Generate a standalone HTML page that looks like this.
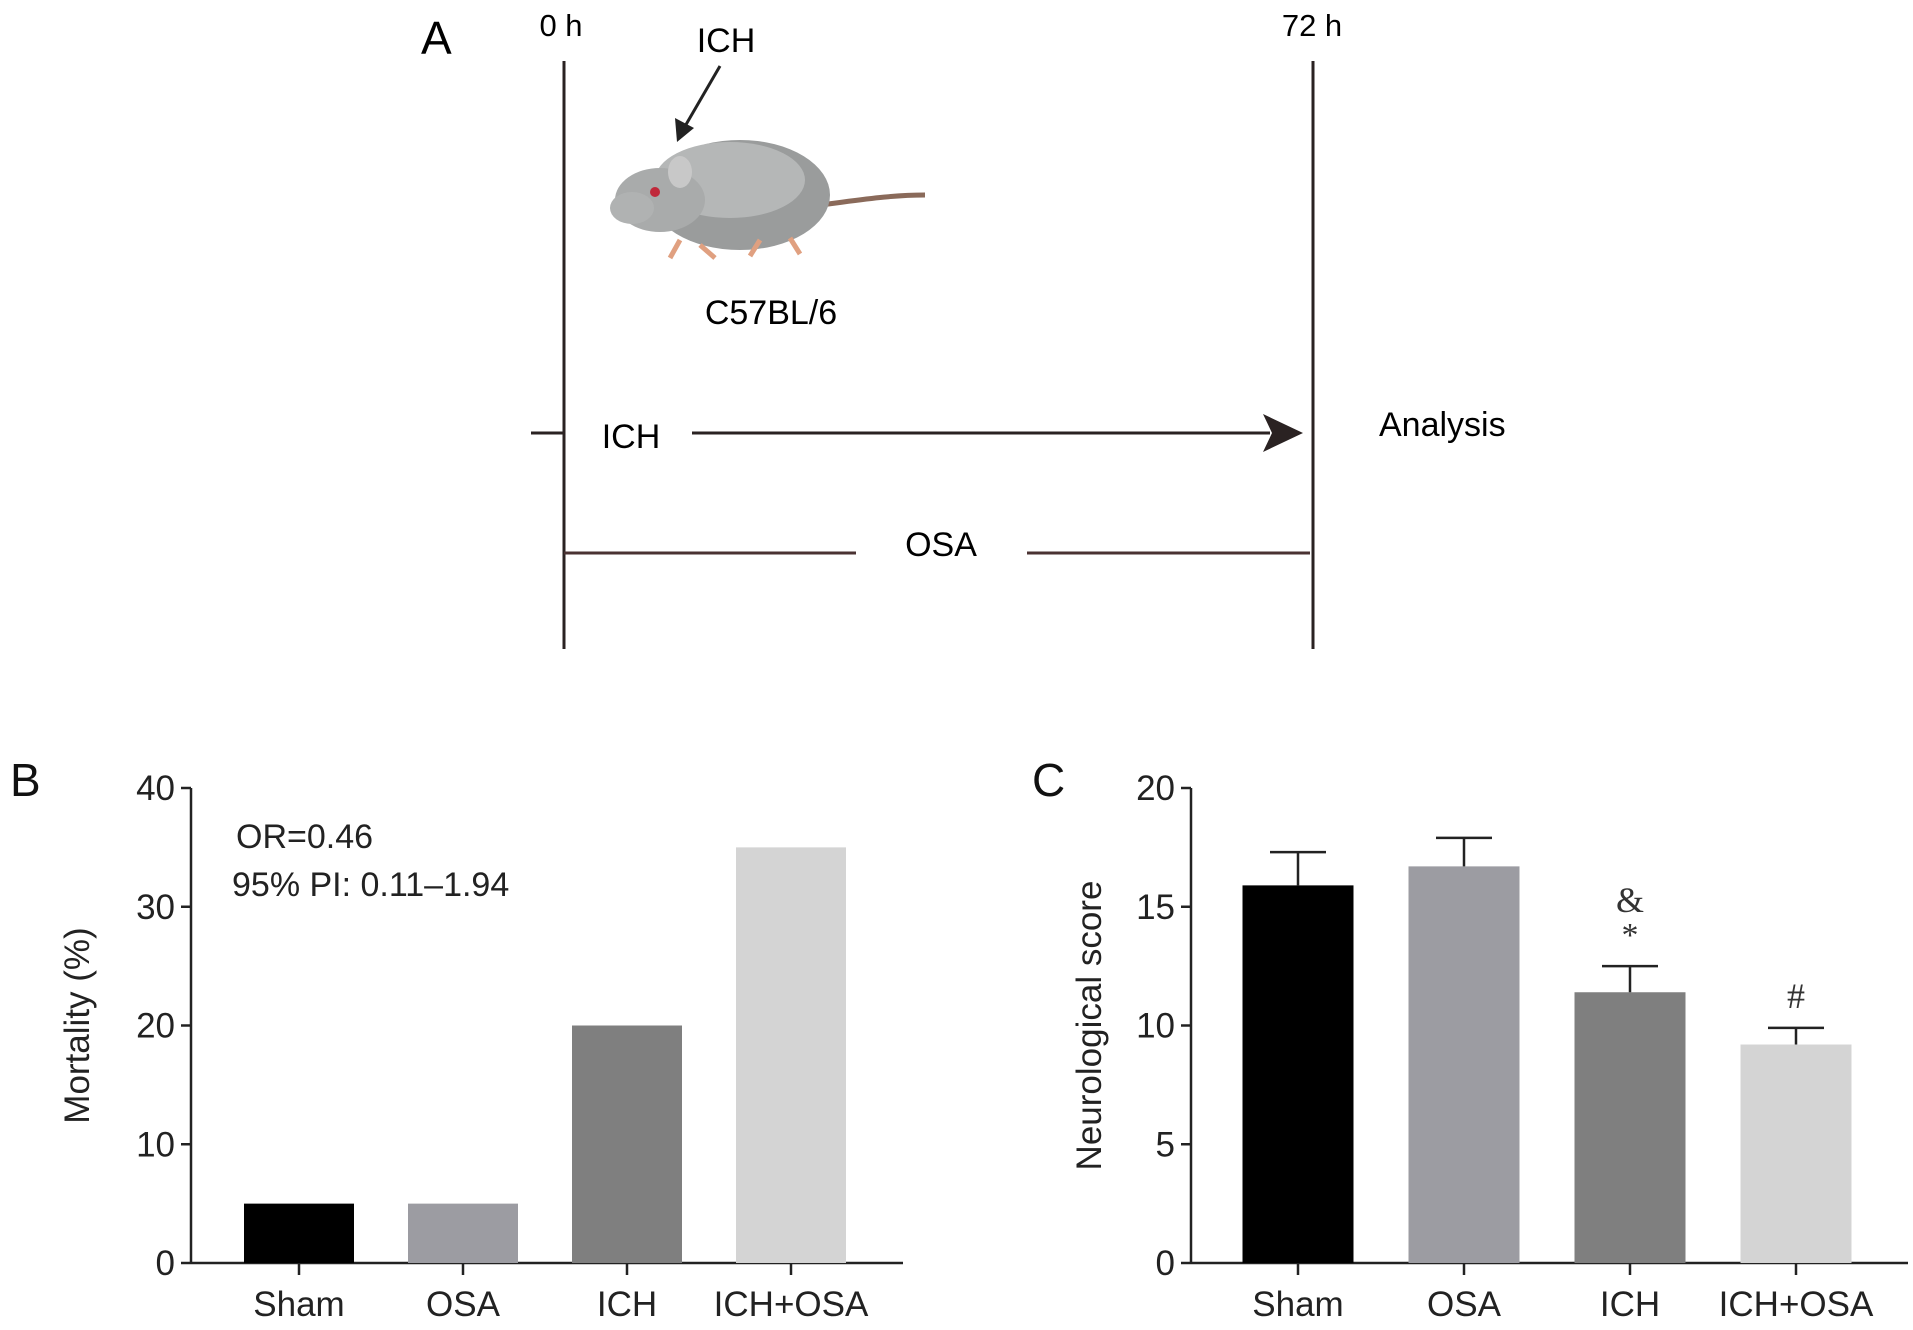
<!DOCTYPE html>
<html><head><meta charset="utf-8"><style>
html,body{margin:0;padding:0;background:#fff;}
svg{display:block;font-family:"Liberation Sans",Arial,sans-serif;}
</style></head><body>
<svg width="1913" height="1330" viewBox="0 0 1913 1330" xmlns="http://www.w3.org/2000/svg">
<g>
<text x="421" y="54" font-size="46">A</text>
<line x1="564" y1="61" x2="564" y2="649" stroke="#2a2222" stroke-width="3"/>
<line x1="1313" y1="61" x2="1313" y2="649" stroke="#2a2222" stroke-width="3"/>
<text x="561" y="36" font-size="31" text-anchor="middle">0 h</text>
<text x="1312" y="36" font-size="31" text-anchor="middle">72 h</text>
<text x="726" y="52" font-size="34" text-anchor="middle">ICH</text>
<line x1="720" y1="66" x2="684" y2="128" stroke="#222" stroke-width="3"/>
<polygon points="677,142 675,118 694,128" fill="#222"/>
<g>
<path d="M820,205 C860,200 890,195 925,195" stroke="#8a6a5a" stroke-width="5" fill="none"/>
<ellipse cx="740" cy="195" rx="90" ry="55" fill="#9a9c9c"/>
<ellipse cx="730" cy="180" rx="75" ry="38" fill="#b5b7b7"/>
<ellipse cx="660" cy="200" rx="45" ry="32" fill="#a9abab"/>
<ellipse cx="632" cy="208" rx="22" ry="16" fill="#b0b2b2"/>
<ellipse cx="680" cy="172" rx="12" ry="16" fill="#c8c8c8"/>
<circle cx="655" cy="192" r="5" fill="#c0283a"/>
<path d="M680,240 L670,258 M700,245 L715,258 M760,240 L750,256 M790,238 L800,254" stroke="#e0a080" stroke-width="5"/>
</g>
<text x="771" y="324" font-size="34" text-anchor="middle">C57BL/6</text>
<line x1="531" y1="433" x2="564" y2="433" stroke="#2a2222" stroke-width="3"/>
<text x="631" y="448" font-size="34" text-anchor="middle">ICH</text>
<line x1="692" y1="433" x2="1270" y2="433" stroke="#2a2222" stroke-width="3"/>
<polygon points="1303,433 1263,414 1272,433 1263,452" fill="#2a2222"/>
<text x="1379" y="436" font-size="34">Analysis</text>
<line x1="564" y1="553" x2="856" y2="553" stroke="#4a3232" stroke-width="3"/>
<line x1="1027" y1="553" x2="1310" y2="553" stroke="#4a3232" stroke-width="3"/>
<text x="941" y="556" font-size="34" text-anchor="middle">OSA</text>
</g>
<g id="chartB"></g>
<g id="chartC"></g>
</svg>
<script>
const categories = ["Sham","OSA","ICH","ICH+OSA"];
const mortalityValues = [5,5,20,35];
const mortalityTicks = [0,10,20,30,40];
const neuroMeans = [15.9,16.7,11.4,9.2];
const neuroErrors = [1.4,1.2,1.1,0.7];
const neuroTicks = [0,5,10,15,20];
const neuroMarks = ["","","&\n*","#"];
const colors = ["#000000","#9c9ca2","#7f7f7f","#d4d4d4"];
const NS="http://www.w3.org/2000/svg";
function mk(tag,attrs,parent){const e=document.createElementNS(NS,tag);for(const k in attrs)e.setAttribute(k,attrs[k]);parent.appendChild(e);return e;}
function drawChart(g,cfg){
  const yScale=v=>cfg.y0-(v-cfg.min)/(cfg.max-cfg.min)*(cfg.y0-cfg.yTop);
  const step=cfg.step, xc=i=>cfg.firstX+i*step;
  const ax=mk('line',{x1:cfg.ax,y1:cfg.yTop,x2:cfg.ax,y2:cfg.y0,stroke:'#222','stroke-width':2.5},g);
  
  
  const xa=mk('line',{x1:cfg.ax,y1:cfg.y0,x2:cfg.xEnd,y2:cfg.y0,stroke:'#222','stroke-width':2.5},g);
  
  
  cfg.ticks.forEach(t=>{
    const y=yScale(t);
    const tl=mk('line',{x1:cfg.ax-10,y1:y,x2:cfg.ax,y2:y,stroke:'#222','stroke-width':2.5},g);
    
    
    const tx=mk('text',{x:cfg.ax-16,y:y+12,'font-size':35,'text-anchor':'end',fill:'#222'},g);
    tx.textContent=t;
    
    
  });
  categories.forEach((c,i)=>{
    const x=xc(i), v=cfg.values[i];
    const b=mk('rect',{x:x-cfg.bw/2,y:yScale(v),width:cfg.bw,height:cfg.y0-yScale(v),fill:colors[i]},g);
    
    
    if(cfg.errors){
      const ye=yScale(v+cfg.errors[i]);
      const el=mk('path',{d:`M${x},${yScale(v)} L${x},${ye} M${x-28},${ye} L${x+28},${ye}`,stroke:'#222','stroke-width':2.5,fill:'none'},g);
      
      
      const m=cfg.marks[i];
      if(m){
        const parts=m.split('\n');
        parts.forEach((p,k)=>{
          const t=mk('text',{x:x,y:ye-20-(parts.length-1-k)*34,'font-size':p==='*'?34:36,'text-anchor':'middle','font-family':'Liberation Serif, serif',fill:'#333'},g);
          t.textContent=p;
          
          
        });
      }
    }
    const tk=mk('line',{x1:x,y1:cfg.y0,x2:x,y2:cfg.y0+12,stroke:'#222','stroke-width':2.5},g);
    
    
    const lb=mk('text',{x:x,y:cfg.y0+53,'font-size':35,'text-anchor':'middle',fill:'#222'},g);
    lb.textContent=c;
    
    
  });
  const yl=mk('text',{transform:`translate(${cfg.titleX},${(cfg.yTop+cfg.y0)/2}) rotate(-90)`,'font-size':35,'text-anchor':'middle',fill:'#222'},g);
  yl.textContent=cfg.title;
  
  
  const pl=mk('text',{x:cfg.labelX,y:796,'font-size':46,fill:'#111'},g);
  pl.textContent=cfg.label;
  
  
}
const gB=document.getElementById('chartB');
drawChart(gB,{ax:191,yTop:788,y0:1263,xEnd:903,min:0,max:40,ticks:mortalityTicks,values:mortalityValues,firstX:299,step:164,bw:110,titleX:89,title:'Mortality (%)',label:'B',labelX:10});
const t1=mk('text',{x:236,y:848,'font-size':34,fill:'#222'},gB);t1.textContent='OR=0.46';


const t2=mk('text',{x:232,y:896,'font-size':34,fill:'#222'},gB);t2.textContent='95% PI: 0.11\u20131.94';


drawChart(document.getElementById('chartC'),{ax:1191,yTop:788,y0:1263,xEnd:1908,min:0,max:20,ticks:neuroTicks,values:neuroMeans,errors:neuroErrors,marks:neuroMarks,firstX:1298,step:166,bw:111,titleX:1101,title:'Neurological score',label:'C',labelX:1032});
</script>
</body></html>
